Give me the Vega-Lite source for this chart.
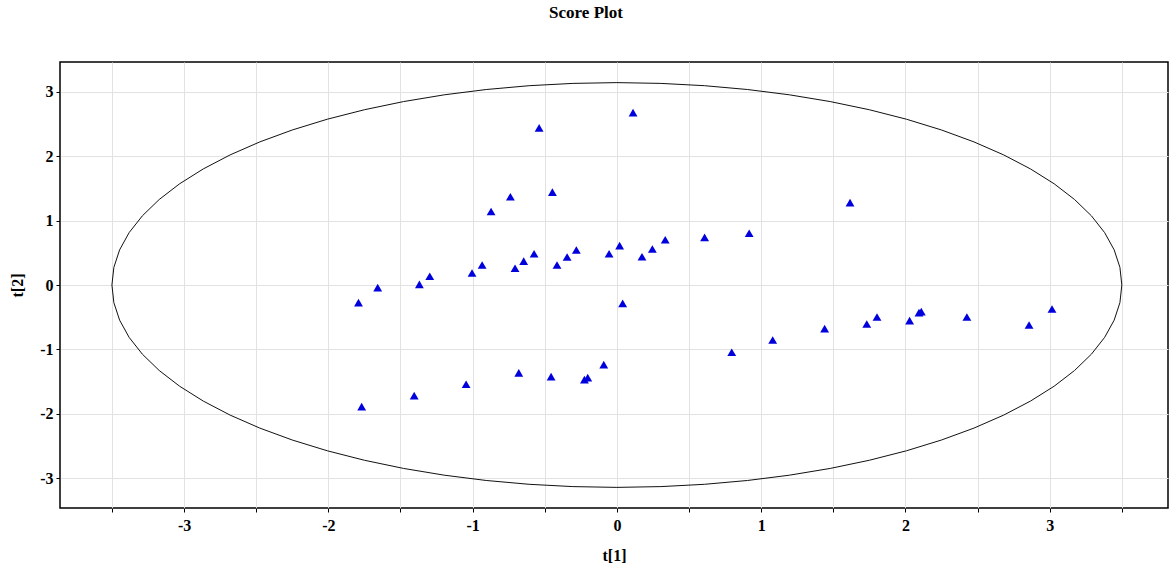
{
  "$schema": "https://vega.github.io/schema/vega-lite/v6.json",
  "width": 1108,
  "height": 446,
  "autosize": "none",
  "padding": {"left": 60, "top": 62, "right": 6, "bottom": 68},
  "background": "white",
  "title": {
    "text": "Score Plot",
    "font": "Liberation Serif",
    "fontSize": 17,
    "fontWeight": "bold",
    "color": "black",
    "anchor": "middle",
    "dx": -28,
    "offset": 40
  },
  "config": {
    "view": {"stroke": "black", "strokeWidth": 1.5},
    "axis": {
      "labelFont": "Liberation Serif",
      "labelFontSize": 16,
      "labelFontWeight": "bold",
      "labelColor": "black",
      "titleFont": "Liberation Serif",
      "titleFontSize": 16,
      "titleFontWeight": "bold",
      "titleColor": "black",
      "domain": false,
      "tickColor": "black",
      "tickSize": 4,
      "gridColor": "#e2e2e2",
      "gridWidth": 1
    }
  },
  "datasets": {
    "pts": [
      {"t1": -1.658, "t2": -0.04},
      {"t1": -1.369, "t2": 0.01},
      {"t1": -1.297, "t2": 0.135},
      {"t1": -1.004, "t2": 0.186},
      {"t1": -0.934, "t2": 0.31},
      {"t1": -0.872, "t2": 1.14},
      {"t1": -0.738, "t2": 1.37},
      {"t1": -0.706, "t2": 0.26},
      {"t1": -0.646, "t2": 0.37},
      {"t1": -0.574, "t2": 0.485},
      {"t1": -0.447, "t2": 1.44},
      {"t1": -0.415, "t2": 0.31},
      {"t1": -0.345, "t2": 0.434},
      {"t1": -0.281, "t2": 0.543},
      {"t1": -0.054, "t2": 0.485},
      {"t1": 0.019, "t2": 0.61},
      {"t1": 0.174, "t2": 0.439},
      {"t1": 0.246, "t2": 0.558},
      {"t1": 0.335, "t2": 0.702},
      {"t1": 0.608, "t2": 0.74},
      {"t1": 0.917, "t2": 0.803},
      {"t1": 1.616, "t2": 1.279},
      {"t1": 0.112, "t2": 2.675},
      {"t1": -0.539, "t2": 2.439},
      {"t1": -1.791, "t2": -0.274},
      {"t1": 0.04, "t2": -0.284},
      {"t1": -1.769, "t2": -1.886},
      {"t1": -1.405, "t2": -1.716},
      {"t1": -1.045, "t2": -1.54},
      {"t1": -0.68, "t2": -1.364},
      {"t1": -0.456, "t2": -1.421},
      {"t1": -0.225, "t2": -1.468},
      {"t1": -0.202, "t2": -1.437},
      {"t1": -0.091, "t2": -1.235},
      {"t1": 0.796, "t2": -1.043},
      {"t1": 1.08, "t2": -0.853},
      {"t1": 1.44, "t2": -0.677},
      {"t1": 1.732, "t2": -0.605},
      {"t1": 1.803, "t2": -0.496},
      {"t1": 2.029, "t2": -0.553},
      {"t1": 2.094, "t2": -0.429},
      {"t1": 2.11, "t2": -0.413},
      {"t1": 2.426, "t2": -0.496},
      {"t1": 2.857, "t2": -0.62},
      {"t1": 3.016, "t2": -0.372}
    ],
    "ell": [
      {"o": 0, "a": 3.5, "b": 0},
      {"o": 1, "a": 3.4867, "b": 0.2737},
      {"o": 2, "a": 3.4468, "b": 0.5453},
      {"o": 3, "a": 3.3808, "b": 0.8127},
      {"o": 4, "a": 3.2889, "b": 1.0739},
      {"o": 5, "a": 3.1721, "b": 1.327},
      {"o": 6, "a": 3.0311, "b": 1.57},
      {"o": 7, "a": 2.867, "b": 1.801},
      {"o": 8, "a": 2.6811, "b": 2.0184},
      {"o": 9, "a": 2.4749, "b": 2.2203},
      {"o": 10, "a": 2.2498, "b": 2.4054},
      {"o": 11, "a": 2.0075, "b": 2.5721},
      {"o": 12, "a": 1.75, "b": 2.7193},
      {"o": 13, "a": 1.4792, "b": 2.8458},
      {"o": 14, "a": 1.1971, "b": 2.9506},
      {"o": 15, "a": 0.9059, "b": 3.033},
      {"o": 16, "a": 0.6078, "b": 3.0923},
      {"o": 17, "a": 0.3051, "b": 3.128},
      {"o": 18, "a": 0, "b": 3.14},
      {"o": 19, "a": -0.3051, "b": 3.128},
      {"o": 20, "a": -0.6078, "b": 3.0923},
      {"o": 21, "a": -0.9059, "b": 3.033},
      {"o": 22, "a": -1.1971, "b": 2.9506},
      {"o": 23, "a": -1.4792, "b": 2.8458},
      {"o": 24, "a": -1.75, "b": 2.7193},
      {"o": 25, "a": -2.0075, "b": 2.5721},
      {"o": 26, "a": -2.2498, "b": 2.4054},
      {"o": 27, "a": -2.4749, "b": 2.2203},
      {"o": 28, "a": -2.6811, "b": 2.0184},
      {"o": 29, "a": -2.867, "b": 1.801},
      {"o": 30, "a": -3.0311, "b": 1.57},
      {"o": 31, "a": -3.1721, "b": 1.327},
      {"o": 32, "a": -3.2889, "b": 1.0739},
      {"o": 33, "a": -3.3808, "b": 0.8127},
      {"o": 34, "a": -3.4468, "b": 0.5453},
      {"o": 35, "a": -3.4867, "b": 0.2737},
      {"o": 36, "a": -3.5, "b": 0},
      {"o": 37, "a": -3.4867, "b": -0.2737},
      {"o": 38, "a": -3.4468, "b": -0.5453},
      {"o": 39, "a": -3.3808, "b": -0.8127},
      {"o": 40, "a": -3.2889, "b": -1.0739},
      {"o": 41, "a": -3.1721, "b": -1.327},
      {"o": 42, "a": -3.0311, "b": -1.57},
      {"o": 43, "a": -2.867, "b": -1.801},
      {"o": 44, "a": -2.6811, "b": -2.0184},
      {"o": 45, "a": -2.4749, "b": -2.2203},
      {"o": 46, "a": -2.2498, "b": -2.4054},
      {"o": 47, "a": -2.0075, "b": -2.5721},
      {"o": 48, "a": -1.75, "b": -2.7193},
      {"o": 49, "a": -1.4792, "b": -2.8458},
      {"o": 50, "a": -1.1971, "b": -2.9506},
      {"o": 51, "a": -0.9059, "b": -3.033},
      {"o": 52, "a": -0.6078, "b": -3.0923},
      {"o": 53, "a": -0.3051, "b": -3.128},
      {"o": 54, "a": 0, "b": -3.14},
      {"o": 55, "a": 0.3051, "b": -3.128},
      {"o": 56, "a": 0.6078, "b": -3.0923},
      {"o": 57, "a": 0.9059, "b": -3.033},
      {"o": 58, "a": 1.1971, "b": -2.9506},
      {"o": 59, "a": 1.4792, "b": -2.8458},
      {"o": 60, "a": 1.75, "b": -2.7193},
      {"o": 61, "a": 2.0075, "b": -2.5721},
      {"o": 62, "a": 2.2498, "b": -2.4054},
      {"o": 63, "a": 2.4749, "b": -2.2203},
      {"o": 64, "a": 2.6811, "b": -2.0184},
      {"o": 65, "a": 2.867, "b": -1.801},
      {"o": 66, "a": 3.0311, "b": -1.57},
      {"o": 67, "a": 3.1721, "b": -1.327},
      {"o": 68, "a": 3.2889, "b": -1.0739},
      {"o": 69, "a": 3.3808, "b": -0.8127},
      {"o": 70, "a": 3.4468, "b": -0.5453},
      {"o": 71, "a": 3.4867, "b": -0.2737},
      {"o": 72, "a": 3.5, "b": 0}
    ]
  },
  "layer": [
    {
      "data": {"name": "pts"},
      "mark": {"type": "point", "opacity": 0},
      "encoding": {
        "x": {
          "field": "t1", "type": "quantitative",
          "scale": {"domain": [-3.86, 3.82], "nice": false, "zero": false},
          "axis": {
            "title": "t[1]",
            "values": [-3.5, -3, -2.5, -2, -1.5, -1, -0.5, 0, 0.5, 1, 1.5, 2, 2.5, 3, 3.5],
            "labelExpr": "datum.value % 1 === 0 ? '' + datum.value : ''",
            "labelPadding": 5,
            "titlePadding": 14
          }
        },
        "y": {
          "field": "t2", "type": "quantitative",
          "scale": {"domain": [-3.46, 3.46], "nice": false, "zero": false},
          "axis": {
            "title": "t[2]",
            "values": [-3, -2.5, -2, -1.5, -1, -0.5, 0, 0.5, 1, 1.5, 2, 2.5, 3],
            "labelExpr": "datum.value % 1 === 0 ? '' + datum.value : ''",
            "labelPadding": 3,
            "titlePadding": 14
          }
        }
      }
    },
    {
      "mark": {"type": "rule", "color": "#222222", "strokeWidth": 1.5},
      "encoding": {"x": {"datum": 0, "type": "quantitative"}}
    },
    {
      "mark": {"type": "rule", "color": "#222222", "strokeWidth": 1.5},
      "encoding": {"y": {"datum": 0, "type": "quantitative"}}
    },
    {
      "data": {"name": "ell"},
      "mark": {"type": "line", "color": "#111111", "strokeWidth": 1},
      "encoding": {
        "x": {"field": "a", "type": "quantitative"},
        "y": {"field": "b", "type": "quantitative"},
        "order": {"field": "o", "type": "quantitative"}
      }
    },
    {
      "data": {"name": "pts"},
      "mark": {"type": "point", "shape": "triangle-up", "filled": true, "color": "#0000dd", "size": 78, "opacity": 1},
      "encoding": {
        "x": {"field": "t1", "type": "quantitative"},
        "y": {"field": "t2", "type": "quantitative"}
      }
    }
  ]
}
